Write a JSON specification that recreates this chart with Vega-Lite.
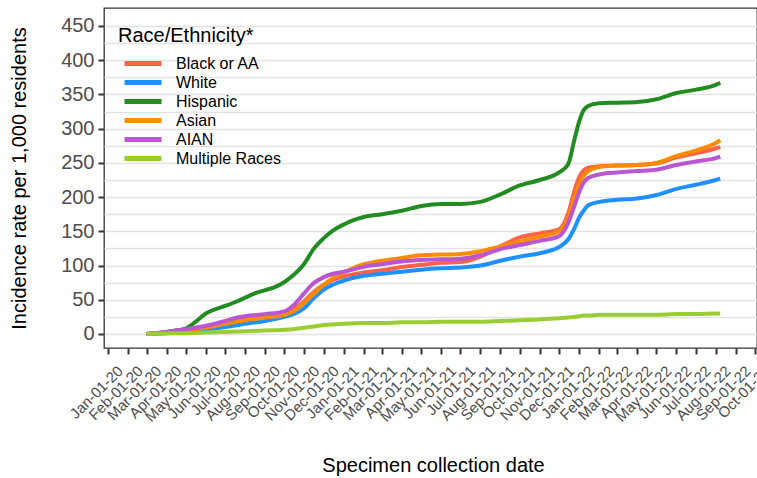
{
  "$schema": "https://vega.github.io/schema/vega-lite/v6.json",
  "autosize": {"type": "none"},
  "padding": {"left": 104, "top": 8, "right": 0, "bottom": 130},
  "width": 653,
  "height": 340,
  "background": "white",
  "config": {
    "font": "Liberation Sans",
    "view": {"stroke": "#333333", "strokeWidth": 1.3}
  },
  "data": {"values": [
    {"d":"2020-03-01","g":"Black or AA","v":0},
    {"d":"2020-04-01","g":"Black or AA","v":3},
    {"d":"2020-05-01","g":"Black or AA","v":7},
    {"d":"2020-06-01","g":"Black or AA","v":11},
    {"d":"2020-07-01","g":"Black or AA","v":17},
    {"d":"2020-08-01","g":"Black or AA","v":23},
    {"d":"2020-09-01","g":"Black or AA","v":26},
    {"d":"2020-10-01","g":"Black or AA","v":30},
    {"d":"2020-10-15","g":"Black or AA","v":36},
    {"d":"2020-11-01","g":"Black or AA","v":48},
    {"d":"2020-11-15","g":"Black or AA","v":61},
    {"d":"2020-12-01","g":"Black or AA","v":72},
    {"d":"2020-12-15","g":"Black or AA","v":79},
    {"d":"2021-01-01","g":"Black or AA","v":84},
    {"d":"2021-02-01","g":"Black or AA","v":90},
    {"d":"2021-03-01","g":"Black or AA","v":93},
    {"d":"2021-04-01","g":"Black or AA","v":98},
    {"d":"2021-05-01","g":"Black or AA","v":101},
    {"d":"2021-06-01","g":"Black or AA","v":104},
    {"d":"2021-07-01","g":"Black or AA","v":105},
    {"d":"2021-08-01","g":"Black or AA","v":113},
    {"d":"2021-09-01","g":"Black or AA","v":128},
    {"d":"2021-10-01","g":"Black or AA","v":141},
    {"d":"2021-11-01","g":"Black or AA","v":147},
    {"d":"2021-12-01","g":"Black or AA","v":153},
    {"d":"2021-12-15","g":"Black or AA","v":176},
    {"d":"2021-12-25","g":"Black or AA","v":210},
    {"d":"2022-01-01","g":"Black or AA","v":229},
    {"d":"2022-01-08","g":"Black or AA","v":239},
    {"d":"2022-01-15","g":"Black or AA","v":243},
    {"d":"2022-02-01","g":"Black or AA","v":245},
    {"d":"2022-03-01","g":"Black or AA","v":246},
    {"d":"2022-04-01","g":"Black or AA","v":247},
    {"d":"2022-05-01","g":"Black or AA","v":249},
    {"d":"2022-06-01","g":"Black or AA","v":258},
    {"d":"2022-07-01","g":"Black or AA","v":264},
    {"d":"2022-08-01","g":"Black or AA","v":271},
    {"d":"2022-08-08","g":"Black or AA","v":273},

    {"d":"2020-03-01","g":"White","v":0},
    {"d":"2020-04-01","g":"White","v":1},
    {"d":"2020-05-01","g":"White","v":3},
    {"d":"2020-06-01","g":"White","v":6},
    {"d":"2020-07-01","g":"White","v":10},
    {"d":"2020-08-01","g":"White","v":15},
    {"d":"2020-09-01","g":"White","v":19},
    {"d":"2020-10-01","g":"White","v":25},
    {"d":"2020-10-15","g":"White","v":29},
    {"d":"2020-11-01","g":"White","v":38},
    {"d":"2020-11-15","g":"White","v":52},
    {"d":"2020-12-01","g":"White","v":65},
    {"d":"2020-12-15","g":"White","v":72},
    {"d":"2021-01-01","g":"White","v":78},
    {"d":"2021-02-01","g":"White","v":85},
    {"d":"2021-03-01","g":"White","v":88},
    {"d":"2021-04-01","g":"White","v":91},
    {"d":"2021-05-01","g":"White","v":94},
    {"d":"2021-06-01","g":"White","v":96},
    {"d":"2021-07-01","g":"White","v":97},
    {"d":"2021-08-01","g":"White","v":100},
    {"d":"2021-09-01","g":"White","v":107},
    {"d":"2021-10-01","g":"White","v":113},
    {"d":"2021-11-01","g":"White","v":118},
    {"d":"2021-12-01","g":"White","v":127},
    {"d":"2021-12-15","g":"White","v":138},
    {"d":"2021-12-25","g":"White","v":155},
    {"d":"2022-01-01","g":"White","v":170},
    {"d":"2022-01-08","g":"White","v":180},
    {"d":"2022-01-15","g":"White","v":188},
    {"d":"2022-02-01","g":"White","v":193},
    {"d":"2022-03-01","g":"White","v":196},
    {"d":"2022-04-01","g":"White","v":198},
    {"d":"2022-05-01","g":"White","v":203},
    {"d":"2022-06-01","g":"White","v":212},
    {"d":"2022-07-01","g":"White","v":218},
    {"d":"2022-08-01","g":"White","v":225},
    {"d":"2022-08-08","g":"White","v":227},

    {"d":"2020-03-01","g":"Hispanic","v":0},
    {"d":"2020-04-01","g":"Hispanic","v":3},
    {"d":"2020-04-15","g":"Hispanic","v":5},
    {"d":"2020-05-01","g":"Hispanic","v":8},
    {"d":"2020-05-15","g":"Hispanic","v":17},
    {"d":"2020-06-01","g":"Hispanic","v":30},
    {"d":"2020-06-15","g":"Hispanic","v":36},
    {"d":"2020-07-01","g":"Hispanic","v":41},
    {"d":"2020-07-15","g":"Hispanic","v":46},
    {"d":"2020-08-01","g":"Hispanic","v":53},
    {"d":"2020-08-15","g":"Hispanic","v":59},
    {"d":"2020-09-01","g":"Hispanic","v":64},
    {"d":"2020-09-15","g":"Hispanic","v":68},
    {"d":"2020-10-01","g":"Hispanic","v":76},
    {"d":"2020-10-15","g":"Hispanic","v":86},
    {"d":"2020-11-01","g":"Hispanic","v":103},
    {"d":"2020-11-15","g":"Hispanic","v":124},
    {"d":"2020-12-01","g":"Hispanic","v":140},
    {"d":"2020-12-15","g":"Hispanic","v":151},
    {"d":"2021-01-01","g":"Hispanic","v":160},
    {"d":"2021-01-15","g":"Hispanic","v":166},
    {"d":"2021-02-01","g":"Hispanic","v":171},
    {"d":"2021-03-01","g":"Hispanic","v":175},
    {"d":"2021-04-01","g":"Hispanic","v":180},
    {"d":"2021-05-01","g":"Hispanic","v":187},
    {"d":"2021-06-01","g":"Hispanic","v":190},
    {"d":"2021-07-01","g":"Hispanic","v":190},
    {"d":"2021-08-01","g":"Hispanic","v":193},
    {"d":"2021-09-01","g":"Hispanic","v":204},
    {"d":"2021-10-01","g":"Hispanic","v":217},
    {"d":"2021-11-01","g":"Hispanic","v":225},
    {"d":"2021-12-01","g":"Hispanic","v":236},
    {"d":"2021-12-15","g":"Hispanic","v":248},
    {"d":"2021-12-25","g":"Hispanic","v":285},
    {"d":"2022-01-01","g":"Hispanic","v":310},
    {"d":"2022-01-08","g":"Hispanic","v":327},
    {"d":"2022-01-15","g":"Hispanic","v":333},
    {"d":"2022-02-01","g":"Hispanic","v":337},
    {"d":"2022-03-01","g":"Hispanic","v":338},
    {"d":"2022-04-01","g":"Hispanic","v":339},
    {"d":"2022-05-01","g":"Hispanic","v":343},
    {"d":"2022-06-01","g":"Hispanic","v":352},
    {"d":"2022-07-01","g":"Hispanic","v":357},
    {"d":"2022-08-01","g":"Hispanic","v":364},
    {"d":"2022-08-08","g":"Hispanic","v":367},

    {"d":"2020-03-01","g":"Asian","v":0},
    {"d":"2020-04-01","g":"Asian","v":2},
    {"d":"2020-05-01","g":"Asian","v":5},
    {"d":"2020-06-01","g":"Asian","v":9},
    {"d":"2020-07-01","g":"Asian","v":15},
    {"d":"2020-08-01","g":"Asian","v":20},
    {"d":"2020-09-01","g":"Asian","v":24},
    {"d":"2020-10-01","g":"Asian","v":28},
    {"d":"2020-10-15","g":"Asian","v":33},
    {"d":"2020-11-01","g":"Asian","v":46},
    {"d":"2020-11-15","g":"Asian","v":58},
    {"d":"2020-12-01","g":"Asian","v":72},
    {"d":"2020-12-15","g":"Asian","v":82},
    {"d":"2021-01-01","g":"Asian","v":90},
    {"d":"2021-02-01","g":"Asian","v":102},
    {"d":"2021-03-01","g":"Asian","v":107},
    {"d":"2021-04-01","g":"Asian","v":111},
    {"d":"2021-05-01","g":"Asian","v":115},
    {"d":"2021-06-01","g":"Asian","v":116},
    {"d":"2021-07-01","g":"Asian","v":117},
    {"d":"2021-08-01","g":"Asian","v":121},
    {"d":"2021-09-01","g":"Asian","v":128},
    {"d":"2021-10-01","g":"Asian","v":135},
    {"d":"2021-11-01","g":"Asian","v":142},
    {"d":"2021-12-01","g":"Asian","v":150},
    {"d":"2021-12-15","g":"Asian","v":170},
    {"d":"2021-12-25","g":"Asian","v":200},
    {"d":"2022-01-01","g":"Asian","v":218},
    {"d":"2022-01-08","g":"Asian","v":231},
    {"d":"2022-01-15","g":"Asian","v":238},
    {"d":"2022-02-01","g":"Asian","v":244},
    {"d":"2022-03-01","g":"Asian","v":246},
    {"d":"2022-04-01","g":"Asian","v":247},
    {"d":"2022-05-01","g":"Asian","v":250},
    {"d":"2022-06-01","g":"Asian","v":260},
    {"d":"2022-07-01","g":"Asian","v":268},
    {"d":"2022-08-01","g":"Asian","v":279},
    {"d":"2022-08-08","g":"Asian","v":283},

    {"d":"2020-03-01","g":"AIAN","v":0},
    {"d":"2020-04-01","g":"AIAN","v":3},
    {"d":"2020-05-01","g":"AIAN","v":7},
    {"d":"2020-06-01","g":"AIAN","v":12},
    {"d":"2020-07-01","g":"AIAN","v":19},
    {"d":"2020-07-15","g":"AIAN","v":23},
    {"d":"2020-08-01","g":"AIAN","v":26},
    {"d":"2020-09-01","g":"AIAN","v":29},
    {"d":"2020-10-01","g":"AIAN","v":33},
    {"d":"2020-10-15","g":"AIAN","v":42},
    {"d":"2020-11-01","g":"AIAN","v":60},
    {"d":"2020-11-15","g":"AIAN","v":74},
    {"d":"2020-12-01","g":"AIAN","v":83},
    {"d":"2020-12-15","g":"AIAN","v":88},
    {"d":"2021-01-01","g":"AIAN","v":91},
    {"d":"2021-02-01","g":"AIAN","v":98},
    {"d":"2021-03-01","g":"AIAN","v":102},
    {"d":"2021-04-01","g":"AIAN","v":106},
    {"d":"2021-05-01","g":"AIAN","v":108},
    {"d":"2021-06-01","g":"AIAN","v":109},
    {"d":"2021-07-01","g":"AIAN","v":110},
    {"d":"2021-08-01","g":"AIAN","v":115},
    {"d":"2021-09-01","g":"AIAN","v":124},
    {"d":"2021-10-01","g":"AIAN","v":130},
    {"d":"2021-11-01","g":"AIAN","v":136},
    {"d":"2021-12-01","g":"AIAN","v":143},
    {"d":"2021-12-15","g":"AIAN","v":162},
    {"d":"2021-12-25","g":"AIAN","v":188},
    {"d":"2022-01-01","g":"AIAN","v":207},
    {"d":"2022-01-08","g":"AIAN","v":221},
    {"d":"2022-01-15","g":"AIAN","v":228},
    {"d":"2022-02-01","g":"AIAN","v":233},
    {"d":"2022-03-01","g":"AIAN","v":236},
    {"d":"2022-04-01","g":"AIAN","v":238},
    {"d":"2022-05-01","g":"AIAN","v":240},
    {"d":"2022-06-01","g":"AIAN","v":247},
    {"d":"2022-07-01","g":"AIAN","v":252},
    {"d":"2022-08-01","g":"AIAN","v":257},
    {"d":"2022-08-08","g":"AIAN","v":259},

    {"d":"2020-03-01","g":"Multiple Races","v":0},
    {"d":"2020-04-01","g":"Multiple Races","v":1},
    {"d":"2020-05-01","g":"Multiple Races","v":1},
    {"d":"2020-06-01","g":"Multiple Races","v":2},
    {"d":"2020-07-01","g":"Multiple Races","v":3},
    {"d":"2020-08-01","g":"Multiple Races","v":4},
    {"d":"2020-09-01","g":"Multiple Races","v":5},
    {"d":"2020-10-01","g":"Multiple Races","v":6},
    {"d":"2020-10-15","g":"Multiple Races","v":7},
    {"d":"2020-11-01","g":"Multiple Races","v":9},
    {"d":"2020-11-15","g":"Multiple Races","v":11},
    {"d":"2020-12-01","g":"Multiple Races","v":13},
    {"d":"2020-12-15","g":"Multiple Races","v":14},
    {"d":"2021-01-01","g":"Multiple Races","v":15},
    {"d":"2021-02-01","g":"Multiple Races","v":16},
    {"d":"2021-03-01","g":"Multiple Races","v":16},
    {"d":"2021-04-01","g":"Multiple Races","v":17},
    {"d":"2021-05-01","g":"Multiple Races","v":17},
    {"d":"2021-06-01","g":"Multiple Races","v":18},
    {"d":"2021-07-01","g":"Multiple Races","v":18},
    {"d":"2021-08-01","g":"Multiple Races","v":18},
    {"d":"2021-09-01","g":"Multiple Races","v":19},
    {"d":"2021-10-01","g":"Multiple Races","v":20},
    {"d":"2021-11-01","g":"Multiple Races","v":21},
    {"d":"2021-12-01","g":"Multiple Races","v":23},
    {"d":"2021-12-15","g":"Multiple Races","v":24},
    {"d":"2021-12-25","g":"Multiple Races","v":25},
    {"d":"2022-01-01","g":"Multiple Races","v":26},
    {"d":"2022-01-08","g":"Multiple Races","v":27},
    {"d":"2022-01-15","g":"Multiple Races","v":27},
    {"d":"2022-02-01","g":"Multiple Races","v":28},
    {"d":"2022-03-01","g":"Multiple Races","v":28},
    {"d":"2022-04-01","g":"Multiple Races","v":28},
    {"d":"2022-05-01","g":"Multiple Races","v":28},
    {"d":"2022-06-01","g":"Multiple Races","v":29},
    {"d":"2022-07-01","g":"Multiple Races","v":29},
    {"d":"2022-08-01","g":"Multiple Races","v":30},
    {"d":"2022-08-08","g":"Multiple Races","v":30}
  ]},
  "mark": {"type": "line", "strokeWidth": 4, "interpolate": "monotone", "strokeCap": "butt", "clip": true},
  "encoding": {
    "x": {
      "field": "d", "type": "temporal",
      "scale": {"domain": [{"year": 2019, "month": 12, "date": 26}, {"year": 2022, "month": 10, "date": 4}], "nice": false},
      "axis": {
        "title": "Specimen collection date",
        "titleFontSize": 20, "titleFontWeight": "normal", "titleColor": "#000000",
        "titleX": 329, "titleY": 117, "titleBaseline": "middle", "titleAnchor": "middle", "titleAlign": "center",
        "tickCount": {"interval": "month", "step": 1},
        "format": "%b-%d-%y",
        "labelAngle": 315, "labelAlign": "right", "labelBaseline": "top",
        "labelFontSize": 15, "labelColor": "#4D4D4D", "labelOverlap": false, "labelFlush": false,
        "labelPadding": 9, "labelOffset": 7,
        "grid": false, "domain": false,
        "ticks": true, "tickSize": 6, "tickWidth": 2, "tickColor": "#333333"
      }
    },
    "y": {
      "field": "v", "type": "quantitative",
      "scale": {"domain": [-20.5, 476.3], "nice": false, "zero": false},
      "axis": {
        "title": "Incidence rate per 1,000 residents",
        "titleFontSize": 20, "titleFontWeight": "normal", "titleColor": "#000000",
        "titleX": -85, "titleY": 170, "titleBaseline": "middle", "titleAngle": -90, "titleAlign": "center",
        "values": [0,25,50,75,100,125,150,175,200,225,250,275,300,325,350,375,400,425,450],
        "labelExpr": "datum.value % 50 === 0 ? datum.label : ''",
        "labelFontSize": 20, "labelColor": "#4D4D4D", "labelPadding": 4,
        "labelBaseline": "middle",
        "domain": false,
        "tickSize": 6, "tickWidth": 2,
        "tickColor": {"condition": {"test": "datum.value % 50 !== 0", "value": "transparent"}, "value": "#333333"},
        "grid": true, "gridColor": "#E3E3E3", "gridWidth": 1.5
      }
    },
    "color": {
      "field": "g", "type": "nominal",
      "scale": {
        "domain": ["Black or AA", "White", "Hispanic", "Asian", "AIAN", "Multiple Races"],
        "range": ["#FF6347", "#1E90FF", "#228B22", "#FF8C00", "#BA55D3", "#9ACD32"]
      },
      "legend": {
        "title": "Race/Ethnicity*",
        "orient": "none", "legendX": 14, "legendY": 18,
        "titleFontSize": 20, "titleFontWeight": "normal", "titleColor": "#000000",
        "titlePadding": 9,
        "labelFontSize": 16, "labelColor": "#000000",
        "symbolType": "M-1,0H5.17", "symbolStrokeWidth": 5, "symbolSize": 144,
        "symbolOffset": 4,
        "labelOffset": 37,
        "rowPadding": -2,
        "fillColor": null, "strokeColor": null
      }
    }
  }
}
